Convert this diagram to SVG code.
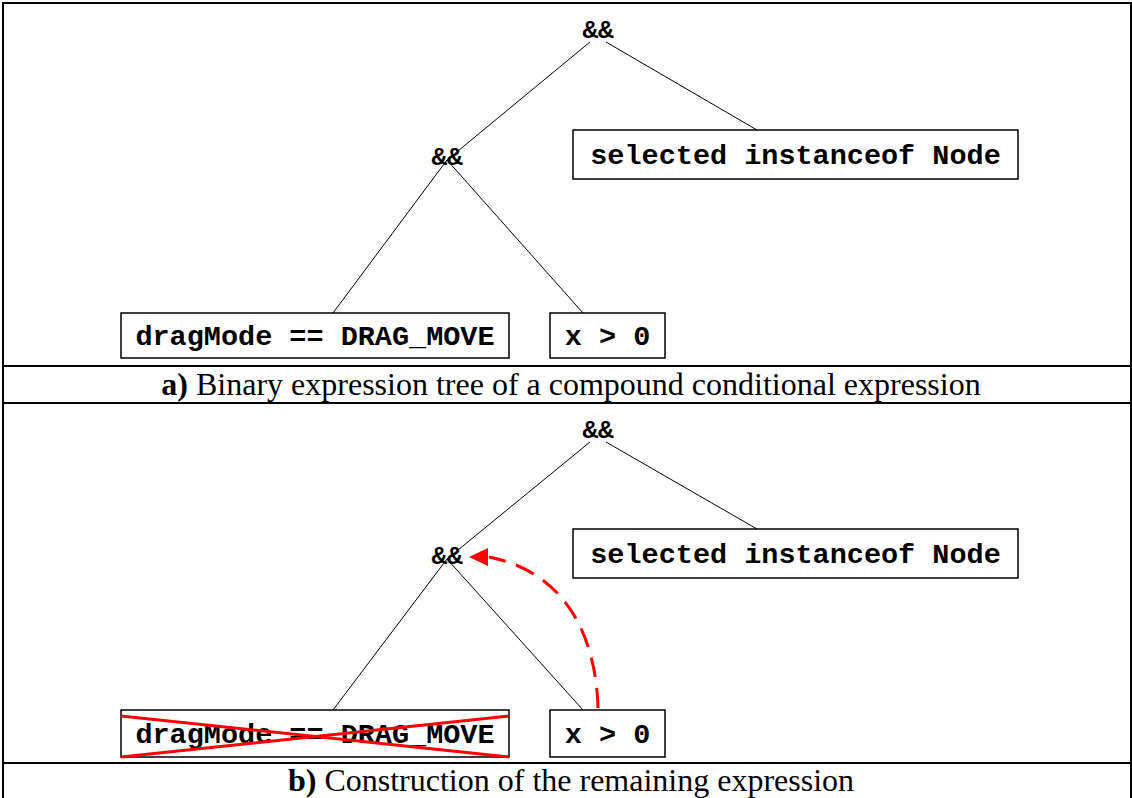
<svg xmlns="http://www.w3.org/2000/svg" width="1132" height="798" viewBox="0 0 1132 798">
<defs>
<style>
.frame{fill:none;stroke:#000;stroke-width:2}
.box{fill:#fff;stroke:#000;stroke-width:1.5}
.code{font-family:"Liberation Mono","Courier New",monospace;font-weight:bold;font-size:28.5px;fill:#000;text-anchor:middle}
.op{font-family:"Liberation Mono","Courier New",monospace;font-weight:bold;font-size:26px;fill:#000;text-anchor:middle}
.edge{stroke:#000;stroke-width:1;fill:none}
.cap{font-family:"Liberation Serif","Times New Roman",serif;font-size:32px;fill:#000;text-anchor:middle}
.red{stroke:#ff0000;stroke-width:3;fill:none}
</style>
</defs>
<rect x="0" y="0" width="1132" height="798" fill="#fff"/>
<g id="frame">
<rect class="frame" x="3" y="3" width="1128" height="800"/>
<line class="frame" x1="3" y1="366" x2="1131" y2="366"/>
<line class="frame" x1="3" y1="403" x2="1131" y2="403"/>
<line class="frame" x1="3" y1="763" x2="1131" y2="763"/>
</g>
<g id="connectors">
<line class="edge" x1="590" y1="42" x2="447" y2="160"/>
<line class="edge" x1="606" y1="42" x2="757" y2="130"/>
<line class="edge" x1="447" y1="160" x2="333" y2="313"/>
<line class="edge" x1="447" y1="160" x2="583" y2="313"/>
<line class="edge" x1="590" y1="442" x2="447" y2="559"/>
<line class="edge" x1="606" y1="442" x2="757" y2="529"/>
<line class="edge" x1="447" y1="559" x2="333" y2="710"/>
<line class="edge" x1="447" y1="559" x2="583" y2="710"/>
<path class="red" d="M598,708 C596,635 565,572 489,557" stroke-dasharray="20,11"/>
<polygon points="469,557 488,548 488,566" fill="#ff0000"/>
</g>
<g id="a-root"><text class="op" x="598" y="38">&amp;&amp;</text></g>
<g id="a-and"><text class="op" x="447" y="165">&amp;&amp;</text></g>
<g id="a-selected"><rect class="box" x="573" y="130" width="445" height="49"/><text class="code" x="795.5" y="164">selected instanceof Node</text></g>
<g id="a-drag"><rect class="box" x="121" y="313" width="388" height="45"/><text class="code" x="315" y="345">dragMode == DRAG_MOVE</text></g>
<g id="a-x"><rect class="box" x="550" y="313" width="115" height="45"/><text class="code" x="607.5" y="345">x &gt; 0</text></g>
<g id="caption-a"><text class="cap" x="571" y="395"><tspan font-weight="bold">a)</tspan> Binary expression tree of a compound conditional expression</text></g>
<g id="b-root"><text class="op" x="598" y="438">&amp;&amp;</text></g>
<g id="b-and"><text class="op" x="447" y="564">&amp;&amp;</text></g>
<g id="b-selected"><rect class="box" x="573" y="529" width="445" height="49"/><text class="code" x="795.5" y="563">selected instanceof Node</text></g>
<g id="b-drag"><rect class="box" x="121" y="710" width="388" height="47"/><text class="code" x="315" y="743">dragMode == DRAG_MOVE</text>
<line class="red" x1="121" y1="716" x2="509" y2="757"/><line class="red" x1="121" y1="757" x2="509" y2="716"/></g>
<g id="b-x"><rect class="box" x="550" y="710" width="115" height="47"/><text class="code" x="607.5" y="743">x &gt; 0</text></g>
<g id="caption-b"><text class="cap" x="571" y="791"><tspan font-weight="bold">b)</tspan> Construction of the remaining expression</text></g>
</svg>
